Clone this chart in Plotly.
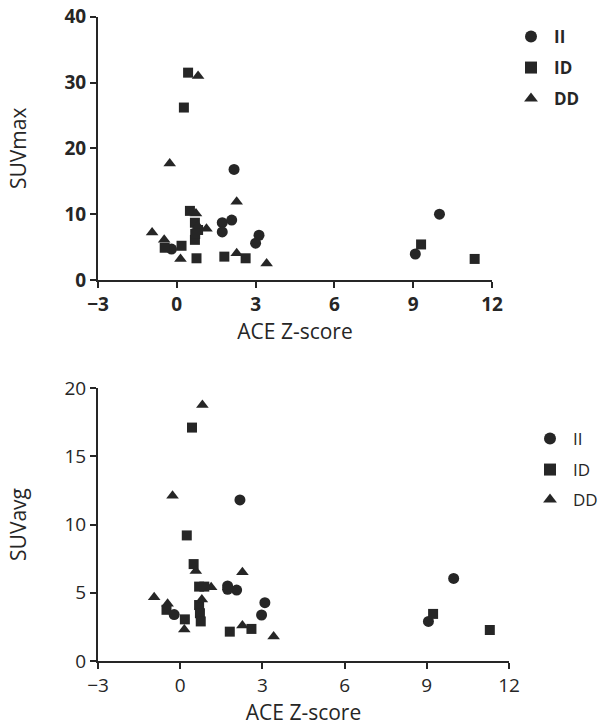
import plotly.graph_objects as go

# ---- data ----
# Top panel: SUVmax vs ACE Z-score
top_II_x = [2.18, 1.73, 2.09, 1.73, 3.13, 3.00, -0.20, 9.08, 10.00]
top_II_y = [16.8, 8.7, 9.1, 7.3, 6.8, 5.6, 4.7, 3.95, 10.0]
top_ID_x = [0.43, 0.27, 0.50, 0.69, 0.81, 0.69, 0.70, 0.18, -0.46, 0.75, 1.81, 2.62, 9.30, 11.34]
top_ID_y = [31.5, 26.2, 10.5, 8.7, 7.6, 6.1, 7.0, 5.2, 4.9, 3.3, 3.55, 3.3, 5.4, 3.2]
top_DD_x = [0.81, -0.27, 0.73, 2.28, 1.13, -0.94, -0.48, 0.14, 2.28, 3.42, 0.80]
top_DD_y = [31.0, 17.7, 10.1, 11.9, 7.8, 7.2, 6.1, 3.2, 4.05, 2.5, 8.2]

# Bottom panel: SUVavg vs ACE Z-score
bot_II_x = [2.18, 1.73, 2.06, 1.73, 3.09, 2.97, -0.22, 9.06, 9.98]
bot_II_y = [11.8, 5.5, 5.2, 5.25, 4.27, 3.37, 3.4, 2.9, 6.05]
bot_ID_x = [0.43, 0.24, 0.49, 0.69, 0.88, -0.50, 0.17, 0.69, 0.72, 0.75, 1.81, 2.60, 9.23, 11.30]
bot_ID_y = [17.1, 9.2, 7.1, 5.45, 5.45, 3.75, 3.05, 4.1, 3.5, 2.9, 2.15, 2.35, 3.45, 2.27]
bot_DD_x = [0.81, -0.28, 0.57, 2.27, 1.13, -0.95, -0.46, 0.15, 0.79, 2.27, 3.41]
bot_DD_y = [18.75, 12.1, 6.6, 6.5, 5.4, 4.67, 4.2, 2.3, 4.5, 2.6, 1.8]

groups = ["II", "ID", "DD"]
x_ticks = [-3, 0, 3, 6, 9, 12]
top_y_ticks = [0, 10, 20, 30, 40]
bot_y_ticks = [0, 5, 10, 15, 20]

INK = "#262626"
FONT = "Open Sans"
W, H = 610, 727

symbols = {"II": "circle", "ID": "square", "DD": "triangle-up"}
sizes = {"II": 11, "ID": 10, "DD": 11}

def px_x(p):
    return p / W

def px_y(p):
    return (H - p) / H

fig = go.Figure()
top_data = {"II": (top_II_x, top_II_y), "ID": (top_ID_x, top_ID_y), "DD": (top_DD_x, top_DD_y)}
bot_data = {"II": (bot_II_x, bot_II_y), "ID": (bot_ID_x, bot_ID_y), "DD": (bot_DD_x, bot_DD_y)}

top_rows = [37, 68, 99]
bot_rows = [439, 470, 500]
legend_layout = {}
n = 0
for panel, data, ax, ay, rows, lx, weight in [
    ("top", top_data, "x", "y", top_rows, 508, "bold"),
    ("bot", bot_data, "x2", "y2", bot_rows, 527, "normal"),
]:
    for g, row in zip(groups, rows):
        n += 1
        lname = "legend" if n == 1 else f"legend{n}"
        xs, ys = data[g]
        fig.add_trace(go.Scatter(x=xs, y=ys, mode="markers", name=g, xaxis=ax, yaxis=ay,
                                 legend=lname,
                                 marker=dict(symbol=symbols[g], size=sizes[g], color=INK,
                                             line=dict(width=0)), cliponaxis=False))
        legend_layout[lname] = dict(x=px_x(lx), y=px_y(row), xanchor="left", yanchor="middle",
                                    font=dict(size=17, weight=weight), itemsizing="constant",
                                    itemwidth=36, bgcolor="rgba(0,0,0,0)")

axis_common = dict(showgrid=False, zeroline=False, showline=True, linecolor=INK, linewidth=2,
                   ticks="outside", ticklen=6, tickwidth=2, tickcolor=INK, automargin=False)

fig.update_layout(
    width=W, height=H, margin=dict(l=0, r=0, t=0, b=0),
    paper_bgcolor="white", plot_bgcolor="white",
    font=dict(family=FONT, color=INK),
    xaxis=dict(domain=[px_x(98), px_x(492)], range=[-3, 12], tickvals=x_ticks, anchor="y",
               tickfont=dict(size=19, weight="bold"),
               title=dict(text="ACE Z-score", font=dict(size=21), standoff=6), **axis_common),
    yaxis=dict(domain=[px_y(280), px_y(16.7)], range=[0, 40], tickvals=top_y_ticks, anchor="x",
               tickfont=dict(size=19, weight="bold"),
               title=dict(text="SUVmax", font=dict(size=21), standoff=32), **axis_common),
    xaxis2=dict(domain=[px_x(98), px_x(509)], range=[-3, 12], tickvals=x_ticks, anchor="y2",
                tickfont=dict(size=19),
                title=dict(text="ACE Z-score", font=dict(size=21), standoff=6), **axis_common),
    yaxis2=dict(domain=[px_y(661), px_y(388)], range=[0, 20], tickvals=bot_y_ticks, anchor="x2",
                tickfont=dict(size=19),
                title=dict(text="SUVavg", font=dict(size=21), standoff=32), **axis_common),
    showlegend=True,
    **legend_layout,
)

fig.write_html("out.html", config={"displayModeBar": False},
               post_script="document.body.style.margin='0';document.body.style.overflow='hidden';")
